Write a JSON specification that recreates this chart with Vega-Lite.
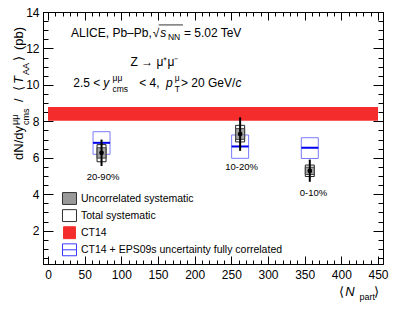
{
  "$schema": "https://vega.github.io/schema/vega-lite/v6.json",
  "autosize": {"type": "none"},
  "width": 340,
  "height": 252,
  "padding": {"left": 43, "top": 12, "right": 16, "bottom": 48},
  "config": {
    "font": "Liberation Sans",
    "view": {"stroke": "black", "strokeWidth": 1},
    "axis": {"grid": false, "domainColor": "black", "tickColor": "black", "labelColor": "black", "labelFont": "Liberation Sans", "labelFontSize": 12, "labelOverlap": false, "labelFlush": false, "title": null}
  },
  "datasets": {
    "points": [
      {"cent": "20-90%", "npart": 73, "y": 6.27, "stat_lo": 5.55, "stat_hi": 7.0, "unc_lo": 5.98, "unc_hi": 6.55, "tot_lo": 5.78, "tot_hi": 6.72, "th": 6.82, "th_lo": 6.19, "th_hi": 7.43, "lab_x": 75, "lab_y": 4.95},
      {"cent": "10-20%", "npart": 262, "y": 7.3, "stat_lo": 6.38, "stat_hi": 8.22, "unc_lo": 7.01, "unc_hi": 7.6, "tot_lo": 6.87, "tot_hi": 7.78, "th": 6.62, "th_lo": 5.97, "th_hi": 7.25, "lab_x": 264, "lab_y": 5.47},
      {"cent": "0-10%", "npart": 357, "y": 5.28, "stat_lo": 4.68, "stat_hi": 5.9, "unc_lo": 5.08, "unc_hi": 5.48, "tot_lo": 4.97, "tot_hi": 5.6, "th": 6.55, "th_lo": 5.96, "th_hi": 7.1, "lab_x": 362, "lab_y": 4.09}
    ],
    "band": [{"x0": 0, "x1": 450, "lo": 8.03, "hi": 8.78}],
    "legend": [
      {"item": "Uncorrelated systematic"},
      {"item": "Total systematic"},
      {"item": "CT14"},
      {"item": "CT14 + EPS09s uncertainty fully correlated"}
    ],
    "txt": [
      {"t": "ALICE, Pb–Pb,", "x": 31.4, "y": 12.83},
      {"t": "√", "x": 143, "y": 12.83},
      {"t": "= 5.02 TeV", "x": 185.3, "y": 12.83},
      {"t": "Z → μ⁺μ⁻", "x": 112.5, "y": 11.27},
      {"t": "2.5 <", "x": 34.4, "y": 10.09},
      {"t": "< 4,", "x": 124.4, "y": 10.09},
      {"t": "> 20 GeV/", "x": 181.3, "y": 10.09}
    ],
    "txti": [
      {"t": "s", "x": 152.9, "y": 12.83},
      {"t": "y", "x": 75.4, "y": 10.09},
      {"t": "p", "x": 160.8, "y": 10.09},
      {"t": "c", "x": 255.6, "y": 10.09}
    ],
    "txts": [
      {"t": "NN", "x": 163.5, "y": 12.63},
      {"t": "μμ", "x": 88, "y": 10.4},
      {"t": "cms", "x": 88, "y": 9.75},
      {"t": "μ", "x": 172.7, "y": 10.4},
      {"t": "T", "x": 172.7, "y": 9.75}
    ],
    "overline": [{"x0": 151, "x1": 184, "y": 13.29}],
    "ytit": [
      {"t": "dN/dy", "x": -33.75, "y": 5.88},
      {"t": "/", "x": -33.75, "y": 9.06},
      {"t": "⟨", "x": -33.75, "y": 9.66},
      {"t": "⟩", "x": -33.75, "y": 11.31},
      {"t": "(pb)", "x": -33.75, "y": 11.91}
    ],
    "ytiti": [
      {"t": "T", "x": -33.75, "y": 10.05}
    ],
    "ytits": [
      {"t": "μμ", "x": -40.4, "y": 7.8},
      {"t": "cms", "x": -26.5, "y": 7.8},
      {"t": "AA", "x": -26.5, "y": 10.54}
    ],
    "xtit": [
      {"t": "⟨", "x": 397, "y": -1.37},
      {"t": "⟩", "x": 444.7, "y": -1.37}
    ],
    "xtiti": [{"t": "N", "x": 405.5, "y": -1.37}],
    "xtits": [{"t": "part", "x": 424.8, "y": -1.64}]
  },
  "resolve": {"axis": {"x": "independent", "y": "independent"}},
  "layer": [
    {
      "data": {"name": "band"},
      "mark": {"type": "rect", "fill": "#f42c2c"},
      "encoding": {
        "x": {"field": "x0", "type": "quantitative", "scale": {"domain": [0, 450], "nice": false, "zero": false},
          "axis": {"orient": "bottom", "values": [0,10,20,30,40,50,60,70,80,90,100,110,120,130,140,150,160,170,180,190,200,210,220,230,240,250,260,270,280,290,300,310,320,330,340,350,360,370,380,390,400,410,420,430,440,450],
            "tickSize": {"condition": {"test": "datum.value % 50 === 0", "value": -8}, "value": -4},
            "labelExpr": "datum.value % 50 === 0 ? format(datum.value, 'd') : ''", "labelPadding": 13}},
        "x2": {"field": "x1"},
        "y": {"field": "lo", "type": "quantitative", "scale": {"domain": [0.17, 14], "nice": false, "zero": false},
          "axis": {"orient": "left", "values": [0.5,1,1.5,2,2.5,3,3.5,4,4.5,5,5.5,6,6.5,7,7.5,8,8.5,9,9.5,10,10.5,11,11.5,12,12.5,13,13.5,14],
            "tickSize": {"condition": {"test": "datum.value % 2 === 0", "value": -10}, "value": -5},
            "labelExpr": "datum.value % 2 === 0 ? format(datum.value, 'd') : ''", "labelPadding": 14}},
        "y2": {"field": "hi"}
      }
    },
    {
      "data": {"name": "points"},
      "mark": {"type": "bar", "size": 17, "fill": null, "fillOpacity": 0, "stroke": "#7a7aff", "strokeWidth": 1},
      "encoding": {
        "x": {"field": "npart", "type": "quantitative",
          "axis": {"orient": "top", "labels": false, "values": [0,10,20,30,40,50,60,70,80,90,100,110,120,130,140,150,160,170,180,190,200,210,220,230,240,250,260,270,280,290,300,310,320,330,340,350,360,370,380,390,400,410,420,430,440,450],
            "tickSize": {"condition": {"test": "datum.value % 50 === 0", "value": -8}, "value": -4}}},
        "y": {"field": "th_lo", "type": "quantitative",
          "axis": {"orient": "right", "labels": false, "values": [0.5,1,1.5,2,2.5,3,3.5,4,4.5,5,5.5,6,6.5,7,7.5,8,8.5,9,9.5,10,10.5,11,11.5,12,12.5,13,13.5,14],
            "tickSize": {"condition": {"test": "datum.value % 2 === 0", "value": -10}, "value": -5}}},
        "y2": {"field": "th_hi"}
      }
    },
    {
      "data": {"name": "points"},
      "mark": {"type": "tick", "orient": "horizontal", "size": 17, "thickness": 2, "color": "#0000ee", "opacity": 1},
      "encoding": {
        "x": {"field": "npart", "type": "quantitative", "axis": null},
        "y": {"field": "th", "type": "quantitative", "axis": null}
      }
    },
    {
      "data": {"name": "points"},
      "mark": {"type": "bar", "size": 9, "fill": "white", "fillOpacity": 0, "stroke": "#222222", "strokeWidth": 1},
      "encoding": {
        "x": {"field": "npart", "type": "quantitative", "axis": null},
        "y": {"field": "tot_lo", "type": "quantitative", "axis": null},
        "y2": {"field": "tot_hi"}
      }
    },
    {
      "data": {"name": "points"},
      "mark": {"type": "bar", "size": 9, "fill": "#8c8c8c", "fillOpacity": 0.8, "stroke": "#444444", "strokeWidth": 1},
      "encoding": {
        "x": {"field": "npart", "type": "quantitative", "axis": null},
        "y": {"field": "unc_lo", "type": "quantitative", "axis": null},
        "y2": {"field": "unc_hi"}
      }
    },
    {
      "data": {"name": "points"},
      "mark": {"type": "rule", "color": "black", "strokeWidth": 2},
      "encoding": {
        "x": {"field": "npart", "type": "quantitative", "axis": null},
        "y": {"field": "stat_lo", "type": "quantitative", "axis": null},
        "y2": {"field": "stat_hi"}
      }
    },
    {
      "data": {"name": "points"},
      "mark": {"type": "point", "shape": "circle", "filled": true, "color": "black", "size": 22, "opacity": 1},
      "encoding": {
        "x": {"field": "npart", "type": "quantitative", "axis": null},
        "y": {"field": "y", "type": "quantitative", "axis": null}
      }
    },
    {
      "data": {"name": "points"},
      "mark": {"type": "text", "fontSize": 9.5, "align": "center", "baseline": "middle", "color": "black"},
      "encoding": {
        "x": {"field": "lab_x", "type": "quantitative", "axis": null},
        "y": {"field": "lab_y", "type": "quantitative", "axis": null},
        "text": {"field": "cent"}
      }
    },
    {
      "data": {"name": "txt"},
      "mark": {"type": "text", "fontSize": 12, "align": "left", "baseline": "middle", "color": "black"},
      "encoding": {
        "x": {"field": "x", "type": "quantitative", "axis": null},
        "y": {"field": "y", "type": "quantitative", "axis": null},
        "text": {"field": "t"}
      }
    },
    {
      "data": {"name": "txti"},
      "mark": {"type": "text", "fontSize": 12, "fontStyle": "italic", "align": "left", "baseline": "middle", "color": "black"},
      "encoding": {
        "x": {"field": "x", "type": "quantitative", "axis": null},
        "y": {"field": "y", "type": "quantitative", "axis": null},
        "text": {"field": "t"}
      }
    },
    {
      "data": {"name": "txts"},
      "mark": {"type": "text", "fontSize": 8.5, "align": "left", "baseline": "middle", "color": "black"},
      "encoding": {
        "x": {"field": "x", "type": "quantitative", "axis": null},
        "y": {"field": "y", "type": "quantitative", "axis": null},
        "text": {"field": "t"}
      }
    },
    {
      "data": {"name": "overline"},
      "mark": {"type": "rule", "color": "black", "strokeWidth": 0.8},
      "encoding": {
        "x": {"field": "x0", "type": "quantitative", "axis": null},
        "x2": {"field": "x1"},
        "y": {"field": "y", "type": "quantitative", "axis": null}
      }
    },
    {
      "data": {"name": "ytit"},
      "mark": {"type": "text", "fontSize": 13, "angle": 270, "align": "left", "baseline": "alphabetic", "color": "black"},
      "encoding": {
        "x": {"field": "x", "type": "quantitative", "axis": null},
        "y": {"field": "y", "type": "quantitative", "axis": null},
        "text": {"field": "t"}
      }
    },
    {
      "data": {"name": "ytiti"},
      "mark": {"type": "text", "fontSize": 13, "fontStyle": "italic", "angle": 270, "align": "left", "baseline": "alphabetic", "color": "black"},
      "encoding": {
        "x": {"field": "x", "type": "quantitative", "axis": null},
        "y": {"field": "y", "type": "quantitative", "axis": null},
        "text": {"field": "t"}
      }
    },
    {
      "data": {"name": "ytits"},
      "mark": {"type": "text", "fontSize": 9, "angle": 270, "align": "left", "baseline": "alphabetic", "color": "black"},
      "encoding": {
        "x": {"field": "x", "type": "quantitative", "axis": null},
        "y": {"field": "y", "type": "quantitative", "axis": null},
        "text": {"field": "t"}
      }
    },
    {
      "data": {"name": "xtit"},
      "mark": {"type": "text", "fontSize": 13, "align": "left", "baseline": "middle", "color": "black"},
      "encoding": {
        "x": {"field": "x", "type": "quantitative", "axis": null},
        "y": {"field": "y", "type": "quantitative", "axis": null},
        "text": {"field": "t"}
      }
    },
    {
      "data": {"name": "xtiti"},
      "mark": {"type": "text", "fontSize": 13, "fontStyle": "italic", "align": "left", "baseline": "middle", "color": "black"},
      "encoding": {
        "x": {"field": "x", "type": "quantitative", "axis": null},
        "y": {"field": "y", "type": "quantitative", "axis": null},
        "text": {"field": "t"}
      }
    },
    {
      "data": {"name": "xtits"},
      "mark": {"type": "text", "fontSize": 9, "align": "left", "baseline": "middle", "color": "black"},
      "encoding": {
        "x": {"field": "x", "type": "quantitative", "axis": null},
        "y": {"field": "y", "type": "quantitative", "axis": null},
        "text": {"field": "t"}
      }
    },
    {
      "data": {"name": "legend"},
      "mark": {"type": "point", "filled": true, "opacity": 0},
      "encoding": {
        "fill": {"field": "item", "type": "nominal",
          "scale": {"domain": ["Uncorrelated systematic", "Total systematic", "CT14", "CT14 + EPS09s uncertainty fully correlated"], "range": ["#999999", "#ffffff", "#f42c2c", "#ffffff"]},
          "legend": {"orient": "none", "legendX": 19, "legendY": 179, "title": null, "padding": 0, "offset": 0,
            "symbolSize": 196, "symbolStrokeWidth": 1, "labelFontSize": 10.5, "labelFont": "Liberation Sans", "labelColor": "black", "labelOffset": 4, "rowPadding": 0.1, "labelLimit": 400,
            "symbolOpacity": 1,
            "encode": {"symbols": {"update": {"fill": {"scale": "fill", "field": "value"}, "fillOpacity": {"value": 1}, "opacity": {"value": 1}}}}}},
        "stroke": {"field": "item", "type": "nominal",
          "scale": {"domain": ["Uncorrelated systematic", "Total systematic", "CT14", "CT14 + EPS09s uncertainty fully correlated"], "range": ["#333333", "#333333", "#f42c2c", "#3a3aff"]}},
        "shape": {"field": "item", "type": "nominal",
          "scale": {"domain": ["Uncorrelated systematic", "Total systematic", "CT14", "CT14 + EPS09s uncertainty fully correlated"], "range": ["M-1,-0.85H1V0.85H-1Z", "M-1,-0.85H1V0.85H-1Z", "M-0.85,-0.85H0.85V0.85H-0.85Z", "M-1,-0.85H1V0.85H-1ZM-1,0H1"]}}
      }
    }
  ]
}
